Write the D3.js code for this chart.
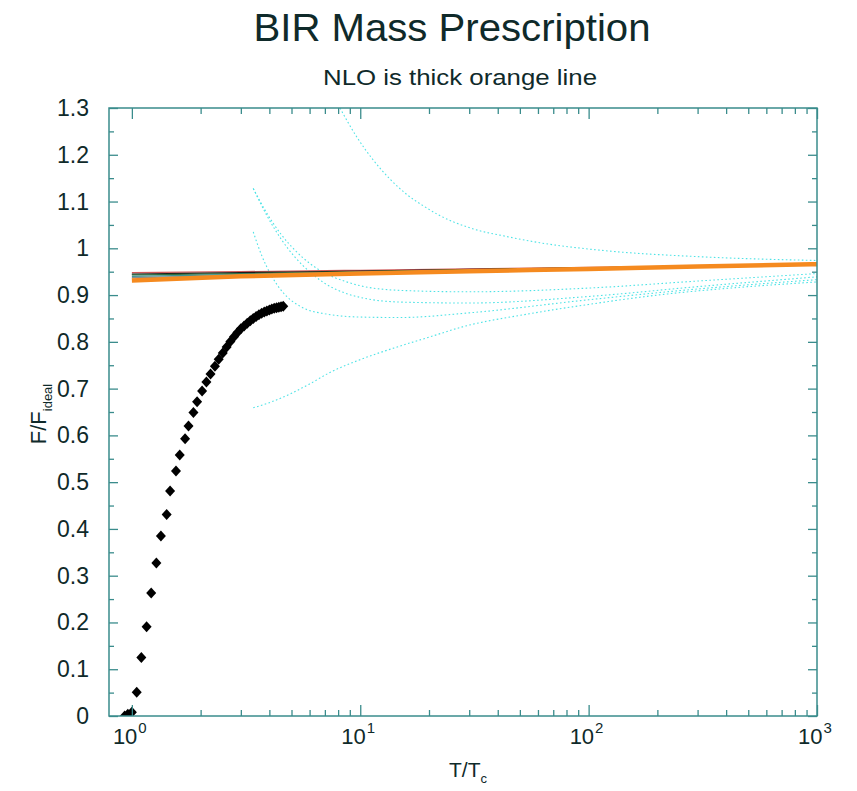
<!DOCTYPE html>
<html>
<head>
<meta charset="utf-8">
<script src="https://cdn.jsdelivr.net/npm/d3@7"></script>
<style>
  body { margin: 0; background: #fff; }
  text { font-family: "Liberation Sans", Arial, sans-serif; fill: #0f2a2a; }
</style>
</head>
<body>
<svg id="chart" width="857" height="791"></svg>
<script>
// lattice points (T/Tc, F/Fideal)
var latticeT = [0.93, 0.96, 1.0, 1.05, 1.10, 1.16, 1.215, 1.28, 1.34, 1.42, 1.47, 1.56, 1.62, 1.71, 1.77,
  1.86, 1.93, 2.03, 2.12, 2.21, 2.31, 2.4, 2.5, 2.6, 2.7, 2.8, 2.9, 3.0, 3.1, 3.2, 3.3, 3.4, 3.5,
  3.6, 3.7, 3.8, 3.9, 4.0, 4.1, 4.2, 4.3, 4.4, 4.5, 4.6];
var latticeF = [0.0, 0.004, 0.008, 0.051, 0.125, 0.191, 0.263, 0.327, 0.385, 0.431, 0.481, 0.524, 0.558, 0.593, 0.620,
  0.649, 0.672, 0.695, 0.714, 0.731, 0.748, 0.763, 0.776, 0.789, 0.801, 0.811, 0.820, 0.828, 0.834, 0.840, 0.845, 0.850, 0.854,
  0.858, 0.861, 0.864, 0.866, 0.868, 0.870, 0.872, 0.873, 0.874, 0.875, 0.876];

// solid resummed curves, values at these T
var solidT = [1, 3, 10, 30, 100, 300, 1000];
var solidColors = ["#d05a5a", "#1a1a1a", "#2f6e3c", "#3f9494", "#8a8a8a"];
var solidF = [
  [0.948, 0.950, 0.953, 0.956, 0.959, 0.962, 0.966],
  [0.945, 0.948, 0.951, 0.955, 0.958, 0.962, 0.966],
  [0.943, 0.946, 0.950, 0.954, 0.958, 0.961, 0.965],
  [0.940, 0.944, 0.949, 0.953, 0.957, 0.961, 0.965],
  [0.937, 0.942, 0.947, 0.952, 0.957, 0.961, 0.965]
];
// NLO (thick orange)
var nloF = [0.931, 0.940, 0.946, 0.951, 0.956, 0.961, 0.966];

// dotted cyan curves, [T, F] pairs
var dotted1 = [[8.15, 1.30], [9.6, 1.24], [11.35, 1.19], [13.5, 1.148], [16, 1.115], [19, 1.09], [22.3, 1.07],
  [31, 1.042], [44, 1.025], [61, 1.012], [112, 0.996], [306, 0.982], [1000, 0.974]];
var dotted2 = [[3.4, 1.128], [3.9, 1.075], [4.5, 1.03], [5.2, 0.995], [6, 0.968], [7, 0.947], [8.5, 0.93],
  [10, 0.92], [15, 0.91], [30, 0.907], [100, 0.915], [300, 0.93], [1000, 0.946]];
var dotted3 = [[3.4, 1.128], [3.9, 1.07], [4.5, 1.02], [5.2, 0.98], [6, 0.95], [7, 0.925], [8.5, 0.905],
  [10, 0.895], [15, 0.885], [30, 0.883], [100, 0.897], [300, 0.918], [1000, 0.939]];
var dotted4 = [[3.4, 1.035], [3.7, 0.985], [4.1, 0.94], [4.6, 0.905], [5.5, 0.875], [7, 0.86], [10, 0.853],
  [15, 0.852], [30, 0.862], [100, 0.89], [300, 0.913], [1000, 0.933]];
var dotted5 = [[3.4, 0.659], [4, 0.670], [5, 0.69], [6, 0.71], [7.4, 0.735], [10, 0.762],
  [14.5, 0.789], [20, 0.81], [28, 0.832], [55, 0.86], [100, 0.88], [200, 0.9], [500, 0.918], [1000, 0.928]];

var yTicks = [0, 0.1, 0.2, 0.3, 0.4, 0.5, 0.6, 0.7, 0.8, 0.9, 1, 1.1, 1.2, 1.3];
var xDecades = [1, 10, 100, 1000];
var xExp = ["0", "1", "2", "3"];

var svg = d3.select("#chart");
var mLeft = 109, mRight = 817, mTop = 108, mBottom = 716;
var axisColor = "#3a8c8c";

var x = d3.scaleLog().domain([0.794, 1000]).range([mLeft, mRight]);
var y = d3.scaleLinear().domain([0, 1.3]).range([mBottom, mTop]);

// titles
svg.append("text").attr("x", 452).attr("y", 41).attr("text-anchor", "middle")
  .attr("textLength", 397).attr("lengthAdjust", "spacingAndGlyphs")
  .style("font-size", "39px").text("BIR Mass Prescription");
svg.append("text").attr("x", 460).attr("y", 85).attr("text-anchor", "middle")
  .attr("textLength", 274).attr("lengthAdjust", "spacingAndGlyphs")
  .style("font-size", "22px").text("NLO is thick orange line");

var plot = svg.append("g");
plot.append("defs").append("clipPath").attr("id", "clip")
  .append("rect").attr("x", mLeft).attr("y", mTop).attr("width", mRight - mLeft).attr("height", mBottom - mTop);

var body = plot.append("g").attr("clip-path", "url(#clip)");

var line = d3.line().x(function(d) { return x(d[0]); }).y(function(d) { return y(d[1]); })
  .curve(d3.curveMonotoneX);

// dotted curves
[dotted1, dotted2, dotted3, dotted4, dotted5].forEach(function(c) {
  body.append("path").datum(c).attr("d", line)
    .attr("fill", "none").attr("stroke", "#4fe3e6").attr("stroke-width", 1.1)
    .attr("stroke-dasharray", "1.6,2.4");
});

// solid curves
solidF.forEach(function(vals, i) {
  body.append("path").datum(solidT.map(function(t, j) { return [t, vals[j]]; }))
    .attr("d", line).attr("fill", "none")
    .attr("stroke", solidColors[i]).attr("stroke-width", 1.3);
});
body.append("path").datum(solidT.map(function(t, j) { return [t, nloF[j]]; }))
  .attr("d", line).attr("fill", "none").attr("stroke", "#f58a1f").attr("stroke-width", 4.5);

// lattice diamonds
body.selectAll(".pt").data(latticeT.map(function(t, i) { return [t, latticeF[i]]; }))
  .enter().append("path")
    .attr("class", "pt")
    .attr("d", "M0,-5.5L5,0L0,5.5L-5,0Z")
    .attr("transform", function(d) { return "translate(" + x(d[0]) + "," + y(d[1]) + ")"; })
    .attr("fill", "#000");

// axes with inward ticks
var minorX = [];
for (var e = 0; e < 3; e++) {
  for (var m = 2; m <= 9; m++) minorX.push(m * Math.pow(10, e));
}
var minorY = yTicks.slice(0, -1).map(function(v) { return v + 0.05; });

function styleAxis(g) {
  g.select(".domain").remove();
  g.selectAll("line").attr("stroke", axisColor).attr("stroke-width", 1.3);
  g.selectAll("text").remove();
}

plot.append("g").attr("transform", "translate(0," + mBottom + ")")
  .call(d3.axisBottom(x).tickValues(xDecades).tickSize(-11)).call(styleAxis);
plot.append("g").attr("transform", "translate(0," + mBottom + ")")
  .call(d3.axisBottom(x).tickValues(minorX).tickSize(-6)).call(styleAxis);
plot.append("g").attr("transform", "translate(0," + mTop + ")")
  .call(d3.axisTop(x).tickValues(xDecades).tickSize(-11)).call(styleAxis);
plot.append("g").attr("transform", "translate(0," + mTop + ")")
  .call(d3.axisTop(x).tickValues(minorX).tickSize(-6)).call(styleAxis);
plot.append("g").attr("transform", "translate(" + mLeft + ",0)")
  .call(d3.axisLeft(y).tickValues(yTicks).tickSize(-9)).call(styleAxis);
plot.append("g").attr("transform", "translate(" + mLeft + ",0)")
  .call(d3.axisLeft(y).tickValues(minorY).tickSize(-5)).call(styleAxis);
plot.append("g").attr("transform", "translate(" + mRight + ",0)")
  .call(d3.axisRight(y).tickValues(yTicks).tickSize(-9)).call(styleAxis);
plot.append("g").attr("transform", "translate(" + mRight + ",0)")
  .call(d3.axisRight(y).tickValues(minorY).tickSize(-5)).call(styleAxis);

plot.append("rect").attr("x", mLeft).attr("y", mTop).attr("width", mRight - mLeft).attr("height", mBottom - mTop)
  .attr("fill", "none").attr("stroke", axisColor).attr("stroke-width", 1.5);

// tick labels
svg.selectAll(".ylab").data(yTicks).enter().append("text")
  .attr("class", "ylab")
  .attr("x", 89).attr("y", function(d) { return y(d) + 8; })
  .attr("text-anchor", "end").style("font-size", "23px")
  .text(function(d) { return d3.format("")(+d.toFixed(1)); });

var xl = svg.selectAll(".xlab").data(xDecades).enter().append("text")
  .attr("class", "xlab")
  .attr("x", function(d) { return x(d) - 19; }).attr("y", 744)
  .attr("text-anchor", "start").style("font-size", "22px");
xl.append("tspan").text("10");
xl.append("tspan").attr("dx", 1).attr("dy", -11).style("font-size", "15px").text(function(d, i) { return xExp[i]; });

// axis titles
var xt = svg.append("text").attr("x", 468).attr("y", 777).attr("text-anchor", "middle").style("font-size", "21px");
xt.append("tspan").text("T/T");
xt.append("tspan").attr("dy", 6).style("font-size", "13px").text("c");

var yt = svg.append("text").attr("transform", "translate(46,414) rotate(-90)")
  .attr("text-anchor", "middle").style("font-size", "22px");
yt.append("tspan").text("F/F");
yt.append("tspan").attr("dy", 6).style("font-size", "13px").text("ideal");
</script>
</body>
</html>
